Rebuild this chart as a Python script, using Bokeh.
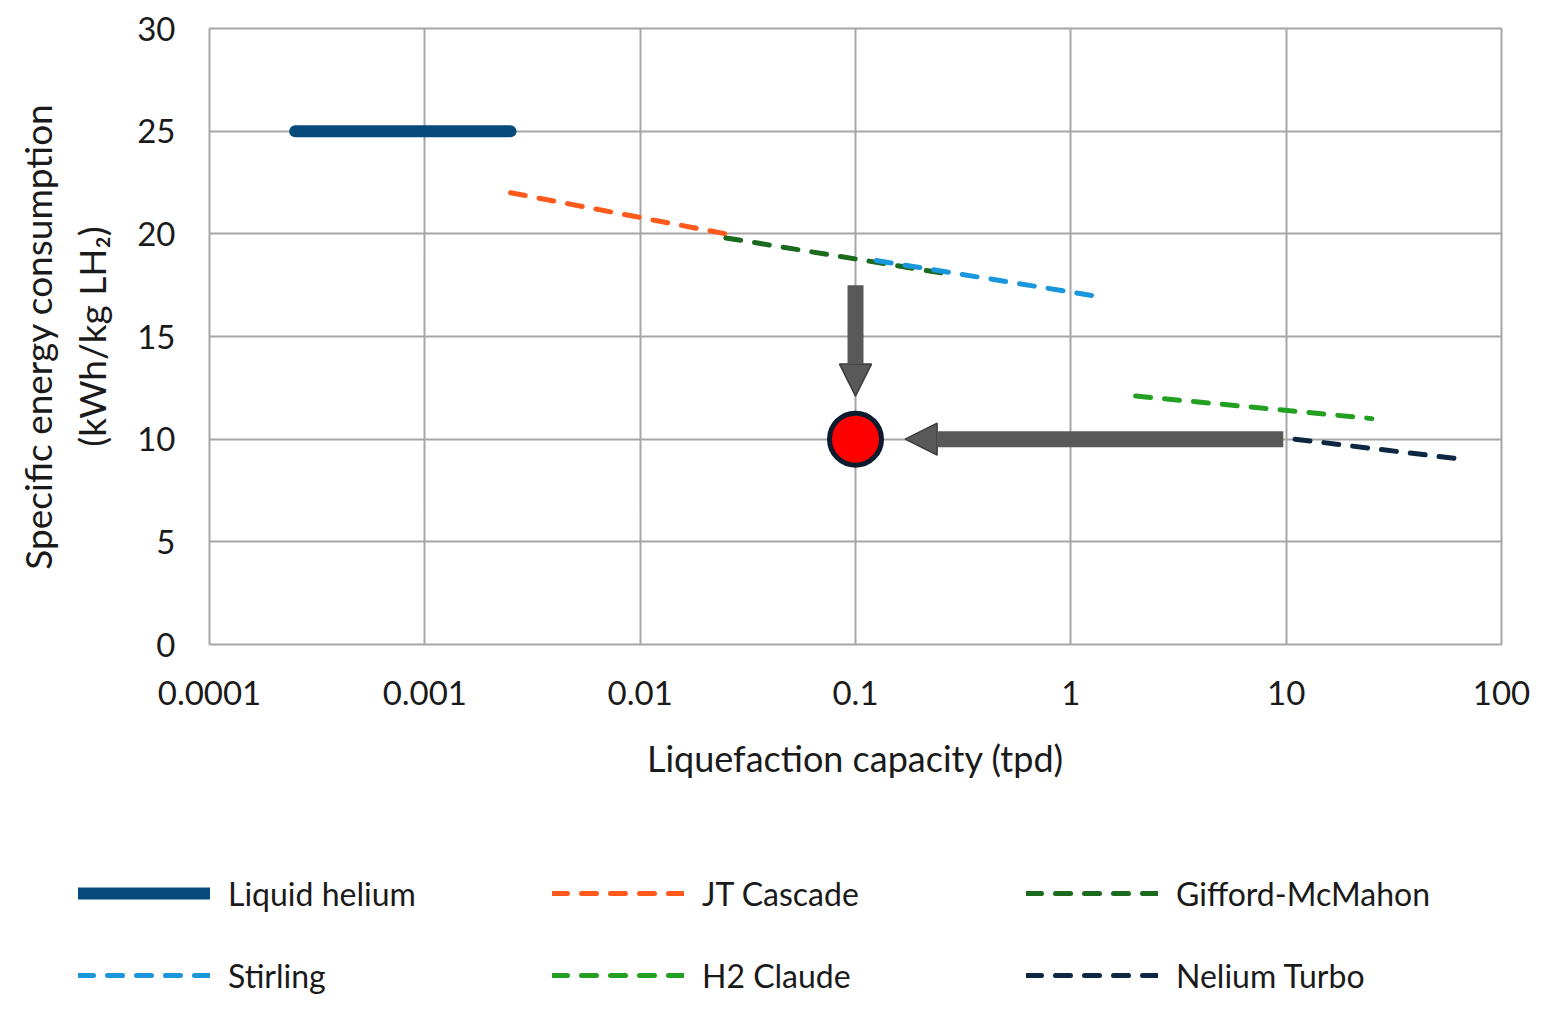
from bokeh.plotting import figure
from bokeh.models import (LinearAxis, FixedTicker, Legend, LegendItem, Arrow,
                          NormalHead, ColumnDataSource, Range1d)
from bokeh.embed import file_html
from bokeh.resources import INLINE

# ---- data ----
names = ["Liquid helium", "JT Cascade", "Gifford-McMahon", "Stirling", "H2 Claude", "Nelium Turbo"]
cap_lo = [0.00025, 0.0025, 0.025, 0.125, 2.0, 11.0]
cap_hi = [0.0025, 0.025, 0.25, 1.25, 25.0, 68.0]
sec_lo = [25.0, 22.0, 19.8, 18.7, 12.1, 10.0]
sec_hi = [25.0, 20.0, 18.1, 17.0, 11.0, 9.0]
colors = ["#064A7C", "#FF5A1C", "#1B6A1E", "#1A96DC", "#23A021", "#0E2742"]
widths = [12, 5, 5, 5, 5, 5]
dashes = ["solid", "15 14", "15 14", "15 14", "15 14", "15 14"]

target_cap = [0.1]
target_sec = [10.0]

arrow_x0 = [0.1, 9.7]
arrow_y0 = [17.5, 10.0]
arrow_x1 = [0.1, 0.17]
arrow_y1 = [12.1, 10.0]

x_ticks = [0.0001, 0.001, 0.01, 0.1, 1, 10, 100]
x_tick_labels = ["0.0001", "0.001", "0.01", "0.1", "1", "10", "100"]
y_ticks = [0, 5, 10, 15, 20, 25, 30]

FONT = "Lato"
TXT = "#1a1a1a"
GRID = "#A6A6A6"

W = 1533
p = figure(width=W, height=800, x_axis_type="log",
           x_range=Range1d(1e-4, 100), y_range=Range1d(0, 30),
           output_backend="svg", toolbar_location=None,
           min_border_left=209, min_border_right=W - 209 - 1292, min_border_top=28,
           min_border_bottom=800 - 28 - 616)
p.background_fill_color = "white"
p.border_fill_color = "white"
p.outline_line_color = GRID
p.outline_line_width = 2

# axes
xa = p.xaxis[0]
xa.ticker = FixedTicker(ticks=x_ticks)
xa.major_label_overrides = {t: l for t, l in zip(x_ticks, x_tick_labels)}
xa.axis_label = "Liquefaction capacity (tpd)"
ya = p.yaxis[0]
ya.ticker = FixedTicker(ticks=y_ticks)
ya.axis_label = "(kWh/kg LH\u2082)"
for ax in (xa, ya):
    ax.axis_line_color = None
    ax.major_tick_line_color = None
    ax.minor_tick_line_color = None
    ax.major_label_text_font = FONT
    ax.major_label_text_font_size = "33px"
    ax.major_label_text_color = TXT
    ax.axis_label_text_font = FONT
    ax.axis_label_text_font_style = "normal"
    ax.axis_label_text_color = TXT
xa.axis_label_text_font_size = "36px"
ya.axis_label_text_font_size = "37px"
xa.major_label_standoff = 30
xa.axis_label_standoff = 28
ya.major_label_standoff = 28
ya.axis_label_standoff = 20

ya2 = LinearAxis(ticker=FixedTicker(ticks=[]), axis_label="Specific energy consumption",
                 axis_line_color=None, major_tick_line_color=None,
                 minor_tick_line_color=None, major_label_text_font_size="0px",
                 axis_label_text_font=FONT, axis_label_text_font_size="37px",
                 axis_label_text_font_style="normal", axis_label_text_color=TXT,
                 axis_label_standoff=7)
p.add_layout(ya2, "left")

p.xgrid.ticker = FixedTicker(ticks=x_ticks)
p.xgrid.grid_line_color = GRID
p.xgrid.grid_line_width = 2
p.ygrid.grid_line_color = GRID
p.ygrid.grid_line_width = 2

# series
for i, nm in enumerate(names):
    src = ColumnDataSource(dict(x=[cap_lo[i], cap_hi[i]], y=[sec_lo[i], sec_hi[i]]))
    p.line("x", "y", source=src, line_color=colors[i], line_width=widths[i],
           line_dash=dashes[i], line_cap="round")

# arrows
asrc = ColumnDataSource(dict(x0=arrow_x0, y0=arrow_y0, x1=arrow_x1, y1=arrow_y1))
head = NormalHead(size=32, fill_color="#595959", line_color="#3d3d3d", line_width=1.5)
p.add_layout(Arrow(x_start="x0", y_start="y0", x_end="x1", y_end="y1", source=asrc,
                   line_color="#595959", line_width=16, end=head))

# target point
p.scatter(target_cap, target_sec, size=52, fill_color="#FF0000",
          line_color="#0D1B2E", line_width=5)

# ---- legend panel (separate root, so its frame is not aligned with the chart) ----
LH = 210
lg = figure(width=W, height=LH, x_range=Range1d(0, 1), y_range=Range1d(0, 1),
            output_backend="svg", toolbar_location=None,
            x_axis_location=None, y_axis_location=None,
            min_border_left=0, min_border_right=0, min_border_top=0, min_border_bottom=0)
lg.grid.visible = False
lg.outline_line_color = None
items = []
nan = float("nan")
for i, nm in enumerate(names):
    r = lg.line([nan, nan], [nan, nan], line_color=colors[i], line_width=widths[i],
                line_dash=dashes[i], line_cap="round")
    items.append(LegendItem(label=nm, renderers=[r]))
legend = Legend(items=items, location=(78, 6), orientation="horizontal", ncols=3,
                glyph_width=132, glyph_height=58, label_height=58, label_width=300,
                label_standoff=18, spacing=24, padding=0, margin=0,
                border_line_color=None, background_fill_alpha=0,
                label_text_font=FONT, label_text_font_size="32px", label_text_color=TXT)
lg.add_layout(legend, "center")

open("out.html", "w").write(file_html([p, lg], INLINE))
